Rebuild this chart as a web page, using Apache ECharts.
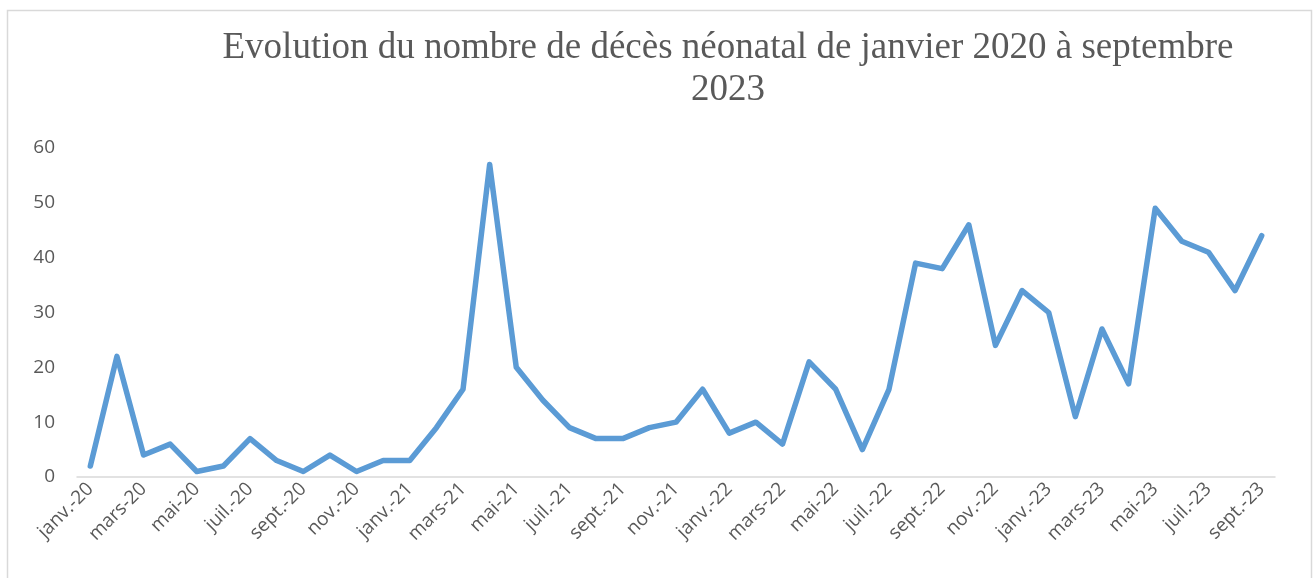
<!DOCTYPE html>
<html>
<head>
<meta charset="utf-8">
<script src="https://cdn.jsdelivr.net/npm/echarts@6/dist/echarts.min.js"></script>
<style>
  html, body { margin: 0; padding: 0; background: #fff; }
  #chart { width: 1316px; height: 578px; }
</style>
</head>
<body>
<div id="chart"></div>
<script>
// mois de janvier 2020 à septembre 2023
const months = [
  'janv.-20','févr.-20','mars-20','avr.-20','mai-20','juin-20','juil.-20','août-20','sept.-20','oct.-20','nov.-20','déc.-20',
  'janv.-21','févr.-21','mars-21','avr.-21','mai-21','juin-21','juil.-21','août-21','sept.-21','oct.-21','nov.-21','déc.-21',
  'janv.-22','févr.-22','mars-22','avr.-22','mai-22','juin-22','juil.-22','août-22','sept.-22','oct.-22','nov.-22','déc.-22',
  'janv.-23','févr.-23','mars-23','avr.-23','mai-23','juin-23','juil.-23','août-23','sept.-23'
];
const deces = [
  2, 22, 4, 6, 1, 2, 7, 3, 1, 4, 1, 3,
  3, 9, 16, 57, 20, 14, 9, 7, 7, 9, 10, 16,
  8, 10, 6, 21, 16, 5, 16, 39, 38, 46, 24, 34,
  30, 11, 27, 17, 49, 43, 41, 34, 44
];
const yTicks = [0, 10, 20, 30, 40, 50, 60];

const chart = echarts.init(document.getElementById('chart'));

const option = {
  animation: false,
  backgroundColor: '#fff',
  title: {
    text: 'Evolution du nombre de décès néonatal de janvier 2020 à septembre\n2023',
    left: 723,
    textAlign: 'center',
    top: 22,
    textStyle: {
      fontFamily: 'Liberation Serif',
      fontSize: 37,
      fontWeight: 'normal',
      color: '#595959',
      lineHeight: 42
    }
  },
  graphic: [{
    type: 'rect',
    shape: { x: 7.5, y: 10.5, width: 1304, height: 580 },
    style: { fill: 'none', stroke: '#d9d9d9', lineWidth: 1.5 },
    silent: true
  }],
  grid: { left: 77, right: 41, top: 148, bottom: 101, containLabel: false },
  xAxis: {
    type: 'category',
    data: months,
    boundaryGap: true,
    axisLine: { lineStyle: { color: '#d9d9d9', width: 1.5 } },
    axisTick: { interval: 1, length: 6, lineStyle: { color: '#d9d9d9', width: 1.5 } },
    axisLabel: {
      interval: 1,
      rotate: 45,
      margin: 9,
      fontFamily: 'Open Sans',
      fontSize: 19,
      color: '#595959'
    }
  },
  yAxis: {
    type: 'value',
    min: yTicks[0],
    max: yTicks[yTicks.length - 1],
    interval: 10,
    axisLine: { show: false },
    axisTick: { show: false },
    splitLine: { show: false },
    axisLabel: {
      margin: 22,
      fontFamily: 'Open Sans',
      fontSize: 19,
      color: '#595959'
    }
  },
  series: [{
    type: 'line',
    data: deces,
    showSymbol: false,
    symbol: 'none',
    lineStyle: { color: '#5b9bd5', width: 5.5, cap: 'round', join: 'round' }
  }]
};

chart.setOption(option);
</script>
</body>
</html>
